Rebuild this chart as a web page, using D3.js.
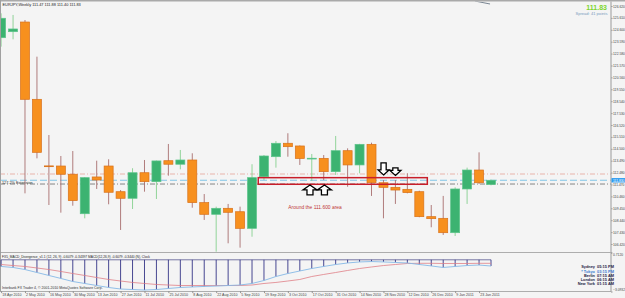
<!DOCTYPE html>
<meta charset="utf-8">
<head>
<style>
  body { margin: 0; background: #fff; }
  svg text { font-family: "Liberation Sans", Arial, sans-serif; }
</style>
</head>
<body>
<svg id="chart"></svg>
<script src="https://d3js.org/d3.v7.min.js"></script>
<script>

// EURJPY weekly bars, one per week from 18 Apr 2010
var firstWeek = "2010-04-18";
var opens  = [123.93,124.44,125.26,118.70,113.05,113.04,112.34,108.99,112.11,113.04,110.86,110.30,112.47,111.71,113.49,113.19,113.55,109.93,108.94,109.45,109.16,107.75,112.13,113.83,114.97,114.74,113.66,113.69,112.56,114.34,113.13,114.88,111.62,111.23,111.06,110.86,108.74,108.60,107.38,111.09,112.70,111.47];
var highs  = [126.00,125.86,125.43,122.32,115.67,113.89,114.31,112.10,113.49,113.61,111.00,112.85,113.55,113.50,114.91,114.40,114.12,110.66,109.59,109.82,109.59,113.19,113.97,115.16,115.82,114.78,114.06,113.97,115.59,114.54,114.92,115.02,111.85,111.85,112.42,110.94,109.73,110.50,111.23,112.90,114.20,111.88];
var lows   = [123.17,123.79,110.72,113.69,109.73,109.08,109.67,108.60,111.09,109.79,107.61,109.39,110.86,110.24,112.22,112.76,109.50,108.46,105.77,106.48,106.11,107.04,111.85,112.90,113.83,113.13,111.77,111.85,112.28,111.28,112.42,110.50,108.60,109.82,110.72,108.69,107.84,107.19,107.10,109.82,111.51,111.40];
var closes = [125.58,124.67,118.70,114.20,113.02,112.34,110.10,112.05,111.85,110.81,110.30,112.47,111.71,113.47,113.19,113.55,109.93,108.94,109.45,109.11,107.75,112.05,113.89,114.97,114.68,113.68,113.70,112.56,114.34,113.13,114.88,111.62,111.23,111.00,110.78,108.74,108.57,107.38,111.09,112.70,111.62,111.83];

// MACD(12,26,9) main and signal
var macdMain   = [-0.65,-0.75,-0.95,-1.24,-1.53,-1.82,-2.12,-2.31,-2.51,-2.70,-2.85,-2.90,-2.95,-2.90,-2.80,-2.70,-2.65,-2.60,-2.56,-2.51,-2.46,-2.31,-2.02,-1.63,-1.34,-1.09,-0.85,-0.65,-0.46,-0.31,-0.21,-0.17,-0.21,-0.26,-0.31,-0.46,-0.60,-0.75,-0.65,-0.56,-0.51,-0.6079];
var macdSignal = [-0.46,-0.56,-0.65,-0.80,-0.95,-1.14,-1.34,-1.53,-1.73,-1.92,-2.07,-2.21,-2.31,-2.41,-2.46,-2.51,-2.51,-2.51,-2.51,-2.51,-2.51,-2.46,-2.31,-2.21,-2.07,-1.92,-1.63,-1.43,-1.24,-1.04,-0.85,-0.70,-0.56,-0.46,-0.36,-0.34,-0.34,-0.36,-0.36,-0.36,-0.34,-0.34397];

var priceTicks = [126.620,125.610,124.600,123.590,122.580,121.570,120.560,119.550,118.540,117.530,116.520,115.510,114.500,113.490,112.480,111.470,110.460,109.450,108.440,107.430,106.420];
var macdTicks = [0.712, -3.0932];
var dateLabels = ["18 Apr 2010","2 May 2010","16 May 2010","30 May 2010","13 Jun 2010","27 Jun 2010","11 Jul 2010","25 Jul 2010","8 Aug 2010","22 Aug 2010","5 Sep 2010","19 Sep 2010","3 Oct 2010","17 Oct 2010","31 Oct 2010","14 Nov 2010","28 Nov 2010","12 Dec 2010","26 Dec 2010","9 Jan 2011","23 Jan 2011"];

// horizontal levels: fib line, bid, fib line
var levelPrices = [112.36, 111.83, 111.51];
var bidPrice = 111.83;
var spreadPoints = 41;

// the "111.600 area" box, in weeks from first bar
var zoneWeeks = [21.52, 35.67];
var zonePrices = [112.05, 111.49];

var arrowWeeks  = [25.85, 27.06, 32.01, 33.0];
var arrowPrices = [111.43, 111.43, 112.28, 112.24];
var arrowDirs   = ["up", "up", "down", "down"];

var trendWeeks  = [39.66, 40.92];
var trendPrices = [127.04, 126.79];

var clockCities = ["Sydney", "* Tokyo", "Berlin", "London", "New York"];
var clockTimes  = ["05:15 PM", "03:15 PM", "07:15 AM", "06:15 AM", "01:15 AM"];


var width = 625,
    height = 298;

var svg = d3.select("#chart")
    .attr("width", width)
    .attr("height", height);

svg.append("rect").attr("width", width).attr("height", height).attr("fill", "#f4f4f4");

var parseDay = d3.utcParse("%Y-%m-%d");
var start = parseDay(firstWeek);
function weekDate(w) { return new Date(start.getTime() + w * 7 * 864e5); }

var x = d3.scaleUtc()
    .domain([start, weekDate(41)])
    .range([1.1, 491]);

var y = d3.scaleLinear()
    .domain([126.62, 106.42])
    .range([6, 244]);

var ym = d3.scaleLinear()
    .domain([0.712, -3.0932])
    .range([252.5, 291.5]);

var plotRight = 611;

svg.append("clipPath").attr("id", "mainclip")
  .append("rect").attr("x", 1).attr("y", 1.5).attr("width", plotRight - 1).attr("height", 251);

var main = svg.append("g").attr("clip-path", "url(#mainclip)");

// level lines
var levelStyles = [
  {stroke: "#e6a49a", dash: "5,2,1,2", w: 0.8},
  {stroke: "#74c0e4", dash: "7,3", w: 0.9},
  {stroke: "#6a6a6a", dash: "5,2,1,2", w: 0.8}
];
main.selectAll("line.level").data(levelPrices).enter().append("line")
  .attr("class", "level")
  .attr("x1", 0).attr("x2", plotRight)
  .attr("y1", function(d) { return y(d); })
  .attr("y2", function(d) { return y(d); })
  .attr("stroke", function(d, i) { return levelStyles[i].stroke; })
  .attr("stroke-width", function(d, i) { return levelStyles[i].w; })
  .attr("stroke-dasharray", function(d, i) { return levelStyles[i].dash; });

main.append("text")
  .attr("x", 2).attr("y", y(111.51) + 0.2)
  .attr("font-size", 3.8).attr("fill", "#333")
  .text("127.2% Extension");

// candles
var candles = opens.map(function(o, i) {
  return {t: weekDate(i), o: o, h: highs[i], l: lows[i], c: closes[i]};
});

var bodyW = 9;
var cg = main.selectAll("g.candle").data(candles).enter().append("g").attr("class", "candle");

cg.append("line")
  .attr("x1", function(d) { return x(d.t); })
  .attr("x2", function(d) { return x(d.t); })
  .attr("y1", function(d) { return y(d.h); })
  .attr("y2", function(d) { return y(d.l); })
  .attr("stroke", function(d) { return d.c >= d.o ? "#86d08e" : "#a86e6e"; })
  .attr("stroke-width", 0.9);

cg.append("rect")
  .attr("x", function(d) { return x(d.t) - bodyW / 2; })
  .attr("width", bodyW)
  .attr("y", function(d) { return y(Math.max(d.o, d.c)); })
  .attr("height", function(d) { return Math.max(0.8, Math.abs(y(d.o) - y(d.c))); })
  .attr("fill", function(d) { return d.c >= d.o ? "#3cb371" : "#f7901e"; })
  .attr("stroke", function(d) { return d.c >= d.o ? "#5cc48a" : "#d9711a"; })
  .attr("stroke-width", 0.7);

// zone box
main.append("rect")
  .attr("x", x(weekDate(zoneWeeks[0])))
  .attr("y", y(zonePrices[0]))
  .attr("width", x(weekDate(zoneWeeks[1])) - x(weekDate(zoneWeeks[0])))
  .attr("height", y(zonePrices[1]) - y(zonePrices[0]))
  .attr("fill", "none")
  .attr("stroke", "#c81e2a")
  .attr("stroke-width", 1.5);

main.append("text")
  .attr("x", x(weekDate(24.04))).attr("y", 209)
  .attr("font-size", 4.9).attr("fill", "#c03434")
  .text("Around the 111.600 area");

// arrows
function arrowPath(dir, i) {
  var w = dir == "up" ? 7 : 5.5,
      s = dir == "up" ? 3 : 2.6,
      hh = 5,
      h = dir == "up" ? 10 : (i == 2 ? 12 : 7.5);
  var k = dir == "up" ? 1 : -1;
  return "M0,0L" + w + "," + k * hh + "L" + s + "," + k * hh + "L" + s + "," + k * h +
         "L" + (-s) + "," + k * h + "L" + (-s) + "," + k * hh + "L" + (-w) + "," + k * hh + "Z";
}
main.selectAll("path.arrow").data(arrowWeeks).enter().append("path")
  .attr("class", "arrow")
  .attr("transform", function(d, i) { return "translate(" + x(weekDate(d)) + "," + y(arrowPrices[i]) + ")"; })
  .attr("d", function(d, i) { return arrowPath(arrowDirs[i], i); })
  .attr("fill", "#fff")
  .attr("stroke", "#000")
  .attr("stroke-width", 1.3)
  .attr("stroke-linejoin", "miter");

// short trendline at the top
main.append("path")
  .attr("d", d3.line()(trendWeeks.map(function(w, i) { return [x(weekDate(w)), y(trendPrices[i])]; })))
  .attr("stroke", "#5a6a7a").attr("stroke-width", 0.8).attr("fill", "none");

// frame
svg.append("rect").attr("x", 0).attr("y", 0).attr("width", width).attr("height", 1.5).attr("fill", "#a9a9a9");
svg.append("line").attr("x1", 0.5).attr("x2", 0.5).attr("y1", 0).attr("y2", 291.5).attr("stroke", "#a0a0a0");
svg.append("line").attr("x1", 0).attr("x2", plotRight).attr("y1", 252.5).attr("y2", 252.5).attr("stroke", "#9a9a9a").attr("stroke-width", 0.8);

// title
svg.append("text")
  .attr("x", 2.5).attr("y", 5.8)
  .attr("font-size", 3.9).attr("fill", "#222")
  .text("EURJPY,Weekly  111.47 111.88 111.40 111.83");

svg.append("text")
  .attr("x", 607).attr("y", 10.2)
  .attr("text-anchor", "end")
  .attr("font-size", 7).attr("font-weight", "bold").attr("fill", "#7cd62c")
  .text(d3.format(".2f")(bidPrice));

svg.append("text")
  .attr("x", 607.5).attr("y", 15.4)
  .attr("text-anchor", "end")
  .attr("font-size", 4.1).attr("fill", "#7a9cc0")
  .text("Spread: " + spreadPoints + " points");

// price axis
var yAxis = svg.append("g")
  .attr("transform", "translate(" + plotRight + ",0)")
  .call(d3.axisRight(y).tickValues(priceTicks).tickFormat(d3.format(".3f")).tickSize(1.5).tickPadding(0.5));
yAxis.select(".domain").remove();
yAxis.selectAll("line").attr("stroke", "#555").attr("stroke-width", 0.6);
yAxis.selectAll("text").attr("font-size", 3.3).attr("fill", "#444");

svg.append("line").attr("x1", plotRight).attr("x2", plotRight).attr("y1", 1.5).attr("y2", 291.5)
  .attr("stroke", "#a8a8a8").attr("stroke-width", 1.2);

// bid marker on axis
svg.append("rect")
  .attr("x", plotRight + 0.5).attr("y", y(bidPrice) - 2.2)
  .attr("width", width - plotRight).attr("height", 4.4)
  .attr("fill", "#2f9cf0");
svg.append("text")
  .attr("x", plotRight + 2).attr("y", y(bidPrice) + 1.3)
  .attr("font-size", 3.3).attr("fill", "#fff")
  .text(d3.format(".3f")(bidPrice));

// MACD window
var macdG = svg.append("g");
macdG.append("line")
  .attr("x1", x(weekDate(0))).attr("x2", x(weekDate(41)))
  .attr("y1", ym(0)).attr("y2", ym(0))
  .attr("stroke", "#24246e").attr("stroke-width", 0.6);

macdG.selectAll("line.bar").data(macdMain).enter().append("line")
  .attr("class", "bar")
  .attr("x1", function(d, i) { return x(weekDate(i)); })
  .attr("x2", function(d, i) { return x(weekDate(i)); })
  .attr("y1", ym(0))
  .attr("y2", function(d) { return ym(d); })
  .attr("stroke", "#1c1c78").attr("stroke-width", 0.8);

var macdLine = d3.line()
  .x(function(d, i) { return x(weekDate(i)); })
  .y(function(d) { return ym(d); });

macdG.append("path").attr("d", macdLine(macdSignal))
  .attr("fill", "none").attr("stroke", "#e07f86").attr("stroke-width", 0.8);
macdG.append("path").attr("d", macdLine(macdMain))
  .attr("fill", "none").attr("stroke", "#86b9e6").attr("stroke-width", 0.9);

svg.append("text")
  .attr("x", 2).attr("y", 258)
  .attr("font-size", 3.4).attr("fill", "#222")
  .attr("textLength", 148).attr("lengthAdjust", "spacingAndGlyphs")
  .text("FX5_MACD_Divergence_v1.1 (12, 26, 9) -0.6079 -0.34397 MACD(12,26,9) -0.6079 -0.3440 (N), Clock");

var mAxis = svg.append("g")
  .attr("transform", "translate(" + plotRight + ",0)")
  .call(d3.axisRight(ym).tickValues(macdTicks).tickFormat(d3.format(".4f")).tickSize(1.5).tickPadding(0.5));
mAxis.select(".domain").remove();
mAxis.selectAll("line").attr("stroke", "#555").attr("stroke-width", 0.6);
mAxis.selectAll("text").attr("font-size", 3.3).attr("fill", "#444")
  .attr("dy", function(d) { return d > 0 ? "0.9em" : "-0.2em"; });

svg.append("text")
  .attr("x", 2).attr("y", 289)
  .attr("font-size", 3.5).attr("fill", "#333")
  .text("Interbank FX Trader 4, \u00a9 2001-2010 MetaQuotes Software Corp.");

// clock
var clockG = svg.append("g").attr("font-size", 3.9).attr("font-weight", "bold");
clockCities.forEach(function(c, i) {
  var col = c.charAt(0) == "*" ? "#3b7bd0" : "#1c1c44";
  clockG.append("text").attr("x", 595).attr("y", 268.3 + i * 4.2).attr("text-anchor", "end").attr("fill", col).text(c);
  clockG.append("text").attr("x", 597).attr("y", 268.3 + i * 4.2).attr("fill", col).text(clockTimes[i]);
});

// date axis
var parseLabel = d3.utcParse("%d %b %Y");
var xAxis = svg.append("g")
  .attr("transform", "translate(0,291.5)")
  .call(d3.axisBottom(x).tickValues(dateLabels.map(parseLabel)).tickFormat(d3.utcFormat("%-d %b %Y")).tickSize(1.6).tickPadding(0.5));
xAxis.select(".domain").attr("d", "M0,0H" + plotRight).attr("stroke", "#9a9a9a").attr("stroke-width", 0.8);
xAxis.selectAll("line").attr("stroke", "#555").attr("stroke-width", 0.6);
xAxis.selectAll("text")
  .attr("text-anchor", "start")
  .attr("dx", 0.6)
  .attr("font-size", 3.6).attr("fill", "#444");

</script>
</body>
